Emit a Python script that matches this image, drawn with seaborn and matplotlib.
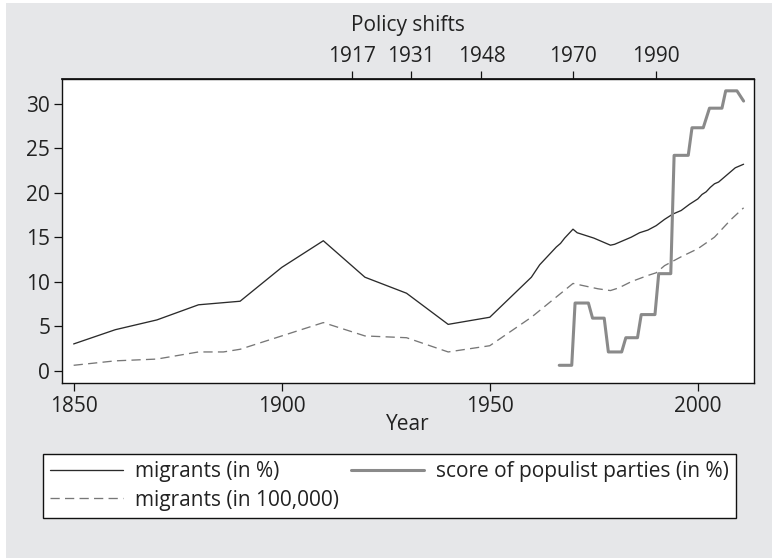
import matplotlib
matplotlib.use("Agg")
import matplotlib.pyplot as plt
import seaborn as sns
import pandas as pd
from matplotlib.patches import Rectangle

# ---------------- data ----------------
mig_pct_years = [1850, 1860, 1870, 1880, 1890, 1900, 1910, 1920, 1930, 1940, 1950,
                 1960, 1962, 1964, 1966, 1967, 1968, 1970, 1971, 1973, 1975, 1977,
                 1979, 1980, 1982, 1984, 1986, 1988, 1990, 1992, 1993, 1994, 1996,
                 1998, 2000, 2001, 2002, 2003, 2004, 2005, 2006, 2007, 2008, 2009,
                 2010, 2011]
mig_pct = [3.0, 4.6, 5.7, 7.4, 7.8, 11.6, 14.6, 10.5, 8.7, 5.2, 6.0,
           10.5, 11.9, 12.9, 13.9, 14.3, 14.9, 15.9, 15.5, 15.2, 14.9, 14.5,
           14.1, 14.2, 14.6, 15.0, 15.5, 15.8, 16.3, 17.0, 17.3, 17.6, 18.0,
           18.7, 19.3, 19.8, 20.1, 20.6, 21.0, 21.2, 21.6, 22.0, 22.4, 22.8,
           23.0, 23.2]

mig_num_years = [1850, 1860, 1870, 1880, 1886, 1890, 1900, 1910, 1920, 1930, 1940,
                 1950, 1960, 1970, 1972, 1976, 1979, 1981, 1984, 1988, 1990, 1992,
                 1996, 2000, 2004, 2008, 2011]
mig_num = [0.6, 1.1, 1.3, 2.1, 2.1, 2.4, 3.9, 5.4, 3.9, 3.7, 2.1,
           2.8, 6.0, 9.8, 9.6, 9.2, 9.0, 9.3, 10.0, 10.7, 11.0, 11.8,
           12.8, 13.7, 15.0, 17.0, 18.3]

pop_years = [1966.7, 1969.7, 1970.5, 1973.7, 1974.7, 1977.5, 1978.5, 1981.7, 1982.7,
             1985.5, 1986.4, 1989.7, 1990.6, 1993.5, 1994.3, 1997.7, 1998.6, 2001.3,
             2002.8, 2005.8, 2006.7, 2009.4, 2011.0]
pop_score = [0.6, 0.6, 7.6, 7.6, 5.9, 5.9, 2.1, 2.1, 3.7,
             3.7, 6.3, 6.3, 10.9, 10.9, 24.2, 24.2, 27.3, 27.3,
             29.5, 29.5, 31.45, 31.45, 30.3]

policy_years = [1917, 1931, 1948, 1970, 1990]
x_ticks = [1850, 1900, 1950, 2000]
y_ticks = [0, 5, 10, 15, 20, 25, 30]

labels = ["migrants (in %)", "migrants (in 100,000)", "score of populist parties (in %)"]

# ---------------- style ----------------
sns.set_theme(style="white")
plt.rcParams['font.family'] = ['Open Sans', 'DejaVu Sans']
FS = 15
TXT = "#222222"
BG = "#e6e7e9"

W, H = 772, 558
fig = plt.figure(figsize=(W / 100, H / 100), dpi=100)
fig.patch.set_facecolor("white")
fig.patches.append(Rectangle((6 / W, 0), 1 - 6 / W, 1 - 3 / H, transform=fig.transFigure,
                             facecolor=BG, edgecolor="none", zorder=-10))

ax = fig.add_axes([62 / W, 1 - 383 / H, (754 - 62) / W, (383 - 79) / H])
ax.set_facecolor("white")

df1 = pd.DataFrame({"year": mig_pct_years, "v": mig_pct})
df2 = pd.DataFrame({"year": mig_num_years, "v": mig_num})
df3 = pd.DataFrame({"year": pop_years, "v": pop_score})

sns.lineplot(data=df1, x="year", y="v", ax=ax, color="#2b2b2b", linewidth=0.95,
             label=labels[0], sort=False)
sns.lineplot(data=df2, x="year", y="v", ax=ax, color="#777777", linewidth=0.95,
             dashes=False, label=labels[1], sort=False)
ax.lines[-1].set_dashes([7, 4])
sns.lineplot(data=df3, x="year", y="v", ax=ax, color="#8a8a8a", linewidth=2.2,
             label=labels[2], sort=False)

ax.set_xlim(1847.2, 2013.5)
ax.set_ylim(-1.39, 32.78)
ax.set_xticks(x_ticks)
ax.set_yticks(y_ticks)
ax.set_ylabel("")
ax.set_xlabel("Year", fontsize=FS, color=TXT)
ax.xaxis.set_label_coords(0.5, -(425 - 383) / 304)
ax.xaxis.label.set_va("center")

for s in ax.spines.values():
    s.set_color("#111111")
    s.set_linewidth(1.0)

ax.tick_params(axis="both", which="major", direction="out", length=5.5, width=0.9,
               color="#111111", labelsize=FS, labelcolor=TXT)
ax.tick_params(axis="y", pad=3)
ax.tick_params(axis="x", pad=4)
ax.tick_params(bottom=True, left=True)

sec = ax.secondary_xaxis("top")
sec.set_xticks(policy_years)
sec.tick_params(axis="x", direction="out", length=5.5, width=0.9, color="#111111",
                labelsize=FS, labelcolor=TXT, pad=3)
sec.spines["top"].set_color("#111111")
fig.text((62 + 754) / 2 / W, 1 - 25 / H, "Policy shifts", fontsize=FS, color=TXT,
         ha="center", va="center")

handles, lbls = ax.get_legend_handles_labels()
ax.get_legend().remove()
leg = fig.legend(handles, lbls, ncol=2, loc="upper left",
                 bbox_to_anchor=(43 / W, 1 - 521 / H, (736 - 43) / W, 67 / H),
                 mode="expand", fontsize=FS, frameon=True, fancybox=False,
                 edgecolor="#111111", facecolor="white", framealpha=1,
                 handlelength=3.5, handletextpad=0.55, labelspacing=0.35,
                 borderpad=0.35, borderaxespad=0, columnspacing=0.5)
leg.get_frame().set_linewidth(1.0)
for t in leg.get_texts():
    t.set_color(TXT)

fig.savefig("out.png", dpi=100, facecolor=fig.get_facecolor())
